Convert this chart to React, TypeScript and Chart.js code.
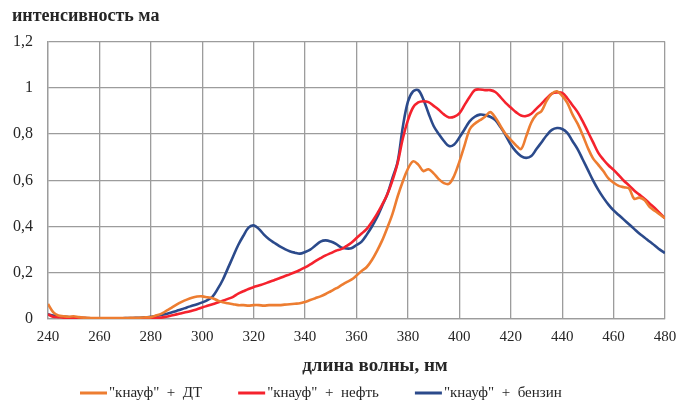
import { useEffect, useRef } from "react";
import { Chart, registerables } from "chart.js";

Chart.register(...registerables);

// Wavelength grid, nm
const wavelengths = [
  240, 242, 244, 246, 248, 250, 252, 254, 256, 258,
  260, 262, 264, 266, 268, 270, 272, 274, 276, 278,
  280, 282, 284, 286, 288, 290, 292, 294, 296, 298,
  300, 302, 304, 306, 308, 310, 312, 314, 316, 318,
  320, 322, 324, 326, 328, 330, 332, 334, 336, 338,
  340, 342, 344, 346, 348, 350, 352, 354, 356, 358,
  360, 362, 364, 366, 368, 370, 372, 374, 376, 378,
  380, 382, 384, 386, 388, 390, 392, 394, 396, 398,
  400, 402, 404, 406, 408, 410, 412, 414, 416, 418,
  420, 422, 424, 426, 428, 430, 432, 434, 436, 438,
  440, 442, 444, 446, 448, 450, 452, 454, 456, 458,
  460, 462, 464, 466, 468, 470, 472, 474, 476, 478,
  480,
];

// "кнауф" + ДТ
const knaufDT = [
  0.065, 0.03, 0.015, 0.012, 0.01, 0.012, 0.008, 0.006, 0.005, 0.004,
  0.004, 0.004, 0.004, 0.004, 0.004, 0.004, 0.005, 0.005, 0.006, 0.007,
  0.008, 0.015, 0.022, 0.035, 0.048, 0.062, 0.074, 0.084, 0.092, 0.097,
  0.098, 0.094, 0.09, 0.08, 0.072, 0.068, 0.064, 0.06, 0.06, 0.058,
  0.06, 0.06, 0.058, 0.06, 0.06, 0.06, 0.062, 0.064, 0.066, 0.068,
  0.074, 0.082, 0.09, 0.098, 0.108, 0.12, 0.132, 0.145, 0.158, 0.17,
  0.188, 0.208, 0.225, 0.255, 0.295, 0.34, 0.395, 0.455, 0.53, 0.595,
  0.65, 0.682, 0.668, 0.64, 0.648, 0.63, 0.605, 0.588, 0.585, 0.62,
  0.68, 0.75, 0.82, 0.845, 0.86, 0.875, 0.895, 0.872, 0.835, 0.8,
  0.775, 0.752, 0.735, 0.79, 0.85, 0.884, 0.9, 0.945, 0.975, 0.985,
  0.965, 0.935, 0.885, 0.845, 0.795, 0.74, 0.695, 0.668, 0.64, 0.608,
  0.59, 0.576, 0.57, 0.565, 0.52, 0.525, 0.515, 0.485, 0.468, 0.452,
  0.436,
];

// "кнауф" + нефть
const knaufOil = [
  0.02, 0.01, 0.008, 0.006, 0.005, 0.005, 0.004, 0.004, 0.003, 0.003,
  0.003, 0.003, 0.003, 0.003, 0.003, 0.003, 0.003, 0.003, 0.003, 0.003,
  0.004, 0.005, 0.006, 0.01, 0.015, 0.02, 0.025, 0.03, 0.036, 0.042,
  0.05, 0.057, 0.064, 0.071, 0.079, 0.087, 0.096, 0.11, 0.12, 0.13,
  0.138, 0.145, 0.152, 0.16, 0.168, 0.176, 0.185, 0.193, 0.202, 0.212,
  0.223, 0.236, 0.25, 0.263, 0.275, 0.285, 0.295, 0.302, 0.315, 0.33,
  0.35, 0.37, 0.39, 0.42, 0.455, 0.495, 0.54, 0.6, 0.675, 0.78,
  0.86, 0.915, 0.937, 0.942, 0.938, 0.922, 0.905, 0.885, 0.872, 0.875,
  0.89, 0.925, 0.96, 0.99, 0.993, 0.99, 0.99, 0.982, 0.96, 0.935,
  0.915, 0.895, 0.88, 0.878, 0.888, 0.91, 0.932, 0.955, 0.975, 0.98,
  0.978, 0.955, 0.925, 0.895, 0.855, 0.81, 0.765, 0.72, 0.69, 0.665,
  0.645, 0.622, 0.598, 0.578, 0.556, 0.538, 0.52, 0.5, 0.48, 0.458,
  0.436,
];

// "кнауф" + бензин
const knaufPetrol = [
  0.02, 0.015, 0.012, 0.01, 0.008, 0.006, 0.005, 0.004, 0.003, 0.003,
  0.003, 0.003, 0.003, 0.003, 0.003, 0.004, 0.004, 0.005, 0.005, 0.007,
  0.01, 0.013, 0.017, 0.022, 0.028, 0.035, 0.042, 0.05, 0.057, 0.064,
  0.072, 0.082, 0.097, 0.13, 0.17, 0.22, 0.27, 0.32, 0.36, 0.395,
  0.405, 0.39, 0.365, 0.345, 0.33, 0.315, 0.303, 0.293, 0.287, 0.283,
  0.29, 0.3, 0.318, 0.335, 0.34, 0.335, 0.325, 0.31, 0.305, 0.306,
  0.32, 0.335, 0.365, 0.4, 0.44, 0.49, 0.54, 0.61, 0.68, 0.83,
  0.94, 0.985, 0.99, 0.95, 0.89, 0.835, 0.8, 0.77, 0.748, 0.755,
  0.785, 0.82, 0.855, 0.875, 0.884, 0.882, 0.875, 0.86, 0.83, 0.795,
  0.755, 0.725, 0.705, 0.697, 0.705, 0.735, 0.765, 0.795, 0.818, 0.826,
  0.822, 0.805, 0.77, 0.735, 0.69, 0.645, 0.6, 0.56, 0.525, 0.495,
  0.47, 0.45, 0.43, 0.41, 0.39, 0.37, 0.353, 0.335, 0.318, 0.3,
  0.285,
];

const seriesLabels = ['"кнауф"  +  ДТ', '"кнауф"  +  нефть', '"кнауф"  +  бензин'];
const seriesColors = ["#ED7D31", "#F5222D", "#2B4A8B"];

const yTitle = "интенсивность ма";
const xTitle = "длина волны, нм";

const SERIF = '"Liberation Serif", "Times New Roman", serif';
const TEXT = "#262626";
const GRID = "#9c9c9c";

// Axis caption under the wavelength ticks, plus the legend row below it
const captionAndLegend = {
  id: "captionAndLegend",
  afterDraw(chart: any) {
    const ctx = chart.ctx as CanvasRenderingContext2D;
    ctx.save();
    ctx.textBaseline = "middle";

    ctx.font = `bold 19px ${SERIF}`;
    ctx.textAlign = "center";
    ctx.fillStyle = TEXT;
    ctx.fillText(xTitle, 375, 366);

    ctx.font = `15px ${SERIF}`;
    ctx.textAlign = "left";
    const sample = 27;
    const gap = 2;
    const spacing = 36;
    let x = 80;
    const y = 393;
    for (const ds of chart.data.datasets) {
      const w = ctx.measureText(ds.label).width;
      ctx.strokeStyle = ds.borderColor;
      ctx.lineWidth = 3;
      ctx.beginPath();
      ctx.moveTo(x, y);
      ctx.lineTo(x + sample, y);
      ctx.stroke();
      ctx.fillStyle = TEXT;
      ctx.fillText(ds.label, x + sample + gap, y);
      x += sample + gap + w + spacing;
    }
    ctx.restore();
  },
};

function fmtComma(v: number) {
  return String(Math.round(v * 10) / 10).replace(".", ",");
}

export default function App() {
  const canvasRef = useRef<HTMLCanvasElement | null>(null);

  useEffect(() => {
    if (!canvasRef.current) return;
    const seriesValues = [knaufDT, knaufOil, knaufPetrol];
    const chart = new Chart(canvasRef.current, {
      type: "line",
      data: {
        datasets: seriesValues.map((vals, i) => ({
          label: seriesLabels[i],
          data: wavelengths.map((w, k) => ({ x: w, y: vals[k] })),
          borderColor: seriesColors[i],
          backgroundColor: seriesColors[i],
          borderWidth: 2.6,
          pointRadius: 0,
          tension: 0.35,
          fill: false,
        })),
      },
      options: {
        animation: false,
        responsive: false,
        devicePixelRatio: 1,
        layout: { padding: { left: 12, right: 18, top: 0, bottom: 28 } },
        plugins: {
          legend: { display: false },
          tooltip: { enabled: false },
          title: {
            display: true,
            text: yTitle,
            align: "start",
            color: TEXT,
            font: { family: SERIF, size: 18, weight: "bold" },
            padding: { top: 6, bottom: 14 },
          },
        },
        scales: {
          x: {
            type: "linear",
            min: 240,
            max: 480,
            afterFit: (scale: any) => {
              scale.height = 56;
              scale.paddingLeft = 0;
              scale.paddingRight = 0;
            },
            ticks: {
              stepSize: 20,
              padding: 9,
              color: TEXT,
              font: { family: SERIF, size: 15 },
              maxRotation: 0,
            },
            grid: { color: GRID, lineWidth: 1.3, drawTicks: false },
            border: { color: GRID, width: 1.3 },
          },
          y: {
            min: 0,
            max: 1.2,
            afterFit: (scale: any) => {
              scale.width = 36;
            },
            ticks: {
              stepSize: 0.2,
              padding: 15,
              color: TEXT,
              font: { family: SERIF, size: 16 },
              callback: (v: any) => fmtComma(Number(v)),
            },
            grid: { color: GRID, lineWidth: 1.3, drawTicks: false },
            border: { color: GRID, width: 1.3 },
          },
        },
      },
      plugins: [captionAndLegend],
    });
    return () => chart.destroy();
  }, []);

  return (
    <div style={{ position: "fixed", left: 0, top: 0, width: 683, height: 403, background: "#fff" }}>
      <canvas ref={canvasRef} width={683} height={403} style={{ display: "block" }} />
    </div>
  );
}
